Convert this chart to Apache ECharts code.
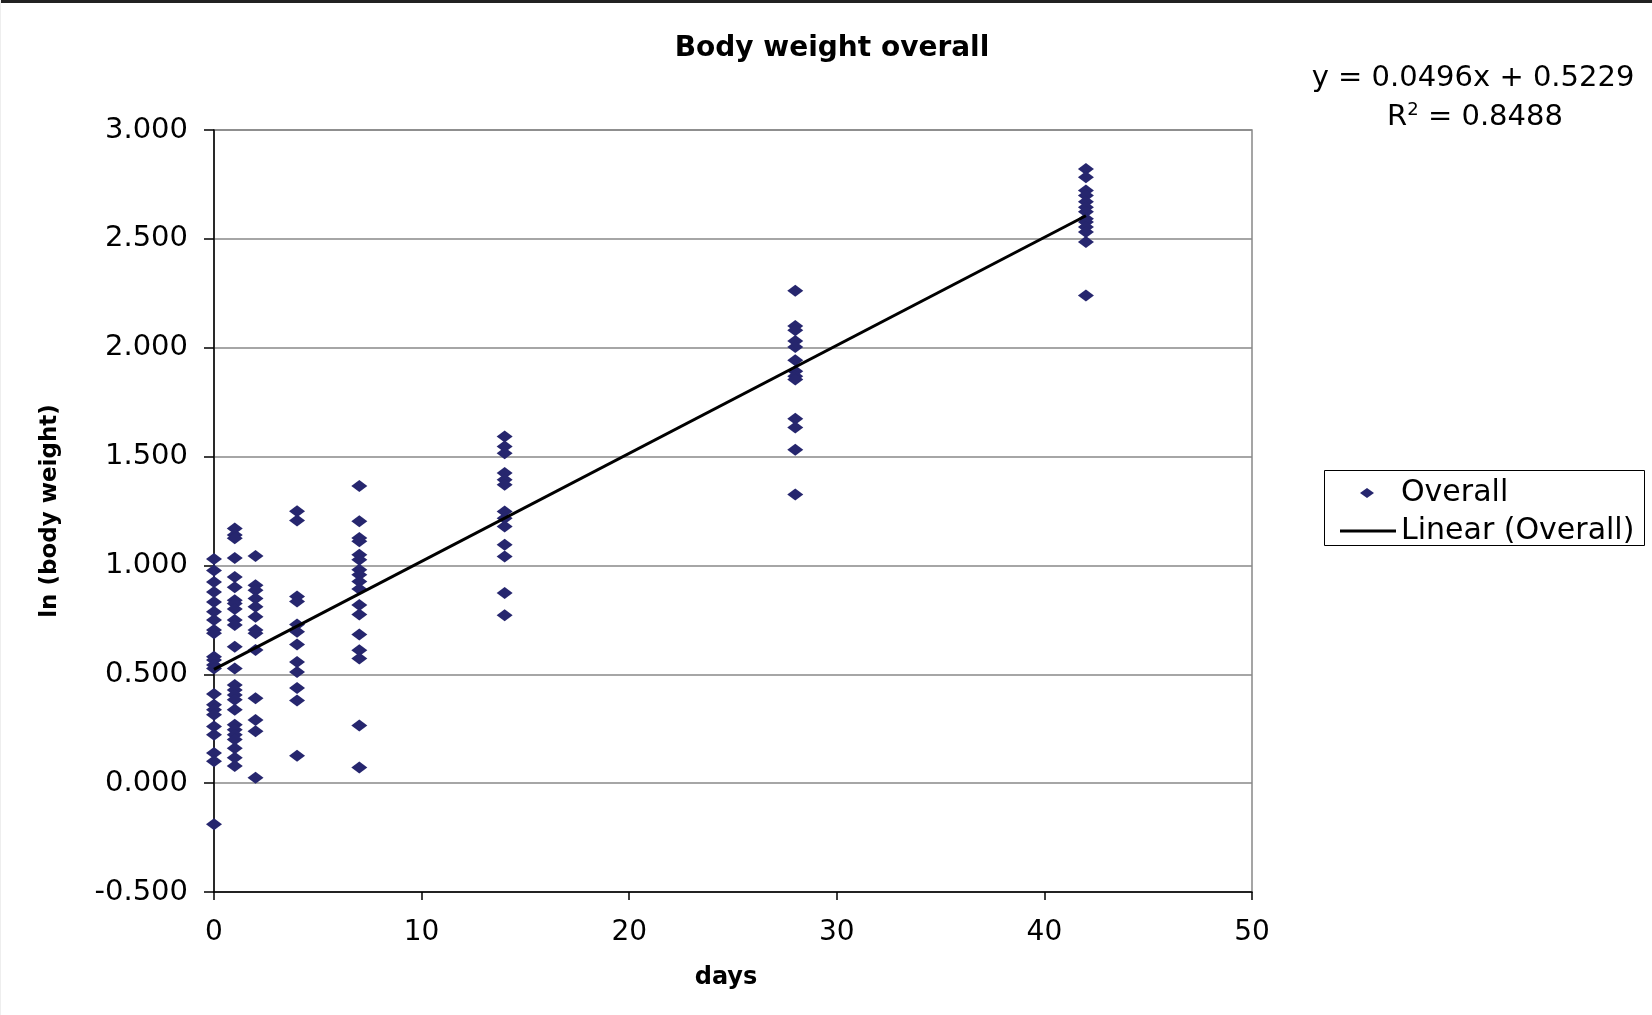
<!DOCTYPE html>
<html>
<head>
<meta charset="utf-8">
<script src="https://cdn.jsdelivr.net/npm/echarts@6/dist/echarts.min.js"></script>
<style>html,body{margin:0;padding:0;background:#fff;}#c{width:1652px;height:1015px;}</style>
</head>
<body>
<div id="c"></div>
<script>
// ---- data ----
const days0 = [1.03, 0.977, 0.924, 0.878, 0.832, 0.787, 0.749, 0.703, 0.688, 0.58, 0.566, 0.543, 0.527, 0.409, 0.36, 0.337, 0.314, 0.26, 0.222, 0.139, 0.101, -0.189];
const days1 = [1.17, 1.14, 1.125, 1.034, 0.947, 0.90, 0.84, 0.825, 0.80, 0.749, 0.726, 0.627, 0.527, 0.451, 0.428, 0.405, 0.383, 0.337, 0.268, 0.245, 0.222, 0.20, 0.16, 0.117, 0.079];
const days2 = [1.043, 0.909, 0.886, 0.848, 0.81, 0.764, 0.703, 0.688, 0.612, 0.39, 0.29, 0.238, 0.025];
const days4 = [1.249, 1.206, 0.857, 0.834, 0.729, 0.695, 0.637, 0.557, 0.511, 0.437, 0.38, 0.126];
const days7 = [1.365, 1.203, 1.126, 1.111, 1.049, 1.026, 0.98, 0.957, 0.926, 0.892, 0.818, 0.775, 0.683, 0.61, 0.572, 0.265, 0.072];
const days14 = [1.592, 1.546, 1.515, 1.424, 1.393, 1.37, 1.248, 1.217, 1.179, 1.095, 1.041, 0.873, 0.771];
const days28 = [2.262, 2.10, 2.08, 2.031, 2.003, 1.942, 1.892, 1.869, 1.854, 1.674, 1.634, 1.531, 1.326];
const days42 = [2.821, 2.783, 2.722, 2.699, 2.671, 2.645, 2.625, 2.592, 2.577, 2.554, 2.531, 2.485, 2.24];
const dayGroups = [[0, days0], [1, days1], [2, days2], [4, days4], [7, days7], [14, days14], [28, days28], [42, days42]];
const trendSlope = 0.0496;
const trendIntercept = 0.5229;
const trendX = [0, 42];
const titleText = 'Body weight overall';
const eqText = 'y = 0.0496x + 0.5229';
const r2Text = 'R{s|2} = 0.8488';

const points = [];
dayGroups.forEach(([d, vals]) => vals.forEach(v => points.push([d, v])));
const trend = trendX.map(x => [x, trendSlope * x + trendIntercept]);

const FONT = 'DejaVu Sans';
const chart = echarts.init(document.getElementById('c'), null, {renderer: 'canvas'});
chart.setOption({
  animation: false,
  backgroundColor: '#fff',
  title: {
    text: titleText, left: 827, top: 30, textAlign: 'center',
    textStyle: {fontFamily: FONT, fontSize: 28, fontWeight: 'bold', color: '#000'}
  },
  grid: {left: 214, right: 400, top: 130, bottom: 123, show: true, borderColor: '#888', borderWidth: 1.5, backgroundColor: 'transparent'},
  xAxis: {
    type: 'value', min: 0, max: 50, interval: 10,
    name: 'days', nameLocation: 'middle', nameGap: 74,
    nameTextStyle: {fontFamily: FONT, fontSize: 24, fontWeight: 'bold', color: '#000', padding: [0, 14, 0, 0]},
    axisLine: {show: true, onZero: false, lineStyle: {color: '#000', width: 1.5}},
    axisTick: {show: true, inside: false, length: 8, lineStyle: {color: '#000', width: 1.5}},
    axisLabel: {fontFamily: FONT, fontSize: 28, color: '#000', margin: 27},
    splitLine: {show: false}
  },
  yAxis: {
    type: 'value', min: -0.5, max: 3, interval: 0.5,
    name: 'ln (body weight)', nameLocation: 'middle', nameGap: 152, nameRotate: 90,
    nameTextStyle: {fontFamily: FONT, fontSize: 23, fontWeight: 'bold', color: '#000'},
    axisLine: {show: true, onZero: false, lineStyle: {color: '#000', width: 1.5}},
    axisTick: {show: true, inside: false, length: 10, lineStyle: {color: '#000', width: 1.5}},
    axisLabel: {fontFamily: FONT, fontSize: 29, color: '#000', margin: 26, formatter: v => v.toFixed(3)},
    splitLine: {show: true, lineStyle: {color: '#888', width: 1.5}}
  },
  legend: [
    {
      orient: 'vertical', left: 1355, top: 473, itemWidth: 14, itemHeight: 10,
      textStyle: {fontFamily: FONT, fontSize: 30, color: '#000', padding: [0, 0, 0, 22]},
      data: [{name: 'Overall', icon: 'diamond'}]
    },
    {
      orient: 'vertical', left: 1335, top: 511, itemWidth: 56, itemHeight: 3,
      textStyle: {fontFamily: FONT, fontSize: 30, color: '#000'},
      data: [{name: 'Linear (Overall)', icon: 'rect', itemStyle: {color: '#000'}}]
    }
  ],
  series: [
    {
      name: 'Overall', type: 'scatter', data: points, symbol: 'diamond', symbolSize: [16, 12],
      itemStyle: {color: '#26266e', opacity: 1}, z: 3
    },
    {
      name: 'Linear (Overall)', type: 'line', data: trend, showSymbol: false, symbol: 'none',
      lineStyle: {color: '#000', width: 3}, itemStyle: {color: '#000'}, z: 4
    }
  ],
  graphic: [
    {type: 'rect', shape: {x: 0, y: 0, width: 1652, height: 3}, style: {fill: '#222'}},
    {type: 'rect', shape: {x: 0, y: 0, width: 1, height: 1015}, style: {fill: '#eee'}},
    {type: 'rect', shape: {x: 1324.5, y: 470.5, width: 320, height: 75}, style: {fill: 'none', stroke: '#000', lineWidth: 1}},
    {type: 'text', x: 1473, y: 78, style: {text: eqText, align: 'center', verticalAlign: 'middle', fontFamily: FONT, fontSize: 29, fill: '#000'}},
    {type: 'text', x: 1475, y: 117, style: {text: r2Text, align: 'center', verticalAlign: 'middle', fontFamily: FONT, fontSize: 29, fill: '#000',
      rich: {s: {fontFamily: FONT, fontSize: 18, verticalAlign: 'top', padding: [0, 0, 14, 0], fill: '#000'}}}}
  ]
});
</script>
</body>
</html>
